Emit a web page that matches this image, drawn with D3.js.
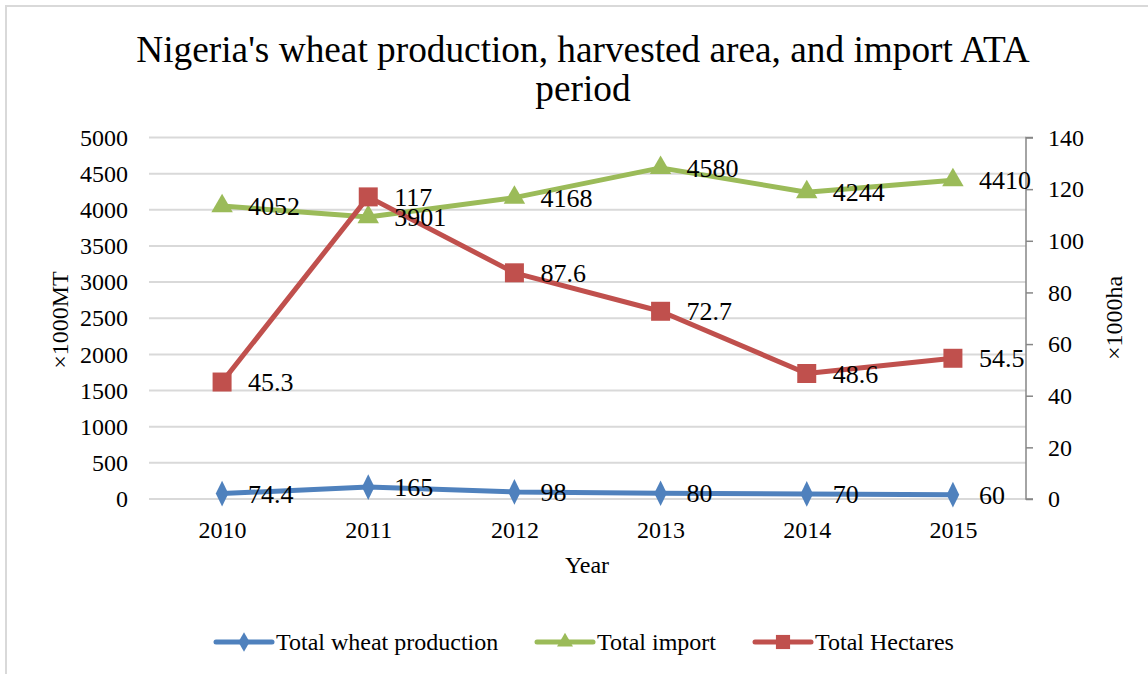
<!DOCTYPE html>
<html>
<head>
<meta charset="utf-8">
<script src="https://cdn.jsdelivr.net/npm/d3@7"></script>
<style>
  html, body { margin: 0; padding: 0; background: #fff; }
  svg { display: block; font-family: "Liberation Serif", "Times New Roman", serif; }
</style>
</head>
<body>
<svg id="chart" width="1148" height="674"></svg>
<script>
const years = ["2010", "2011", "2012", "2013", "2014", "2015"];
const production = [74.4, 165, 98, 80, 70, 60];
const imports = [4052, 3901, 4168, 4580, 4244, 4410];
const hectares = [45.3, 117, 87.6, 72.7, 48.6, 54.5];
const leftTicks = [0, 500, 1000, 1500, 2000, 2500, 3000, 3500, 4000, 4500, 5000];
const rightTicks = [0, 20, 40, 60, 80, 100, 120, 140];
const seriesNames = ["Total wheat production", "Total import", "Total Hectares"];

const svg = d3.select("#chart");
const W = 1148, H = 674;
const plot = { left: 149, right: 1026, top: 137.5, bottom: 499 };

svg.append("rect").attr("x", 6).attr("y", 6).attr("width", W + 20).attr("height", H + 20)
  .attr("fill", "#fff").attr("stroke", "#d9d9d9").attr("stroke-width", 2);

const x = d3.scalePoint().domain(years).range([plot.left, plot.right]).padding(0.5);
const yL = d3.scaleLinear().domain([0, 5000]).range([plot.bottom, plot.top]);
const yR = d3.scaleLinear().domain([0, 140]).range([plot.bottom, plot.top]);

// gridlines
svg.append("g").selectAll("line").data(leftTicks).join("line")
  .attr("x1", plot.left).attr("x2", plot.right)
  .attr("y1", d => yL(d)).attr("y2", d => yL(d))
  .attr("stroke", "#d9d9d9").attr("stroke-width", 2);

// left axis labels
const leftAxis = d3.axisLeft(yL).tickValues(leftTicks).tickFormat(d3.format("d")).tickSize(0).tickPadding(21);
const gL = svg.append("g").attr("transform", `translate(${plot.left},0)`).call(leftAxis);
gL.select(".domain").remove();
gL.selectAll("text").attr("font-size", 24).attr("fill", "#000")
  .attr("font-family", "Liberation Serif, serif");

// right axis
const rightAxis = d3.axisRight(yR).tickValues(rightTicks).tickFormat(d3.format("d")).tickSize(7).tickPadding(15);
const gR = svg.append("g").attr("transform", `translate(${plot.right},0)`).call(rightAxis);
gR.select(".domain").attr("stroke", "#868686").attr("stroke-width", 1.5).attr("d", `M7,${plot.top}H0V${plot.bottom}H7`);
gR.selectAll(".tick line").attr("stroke", "#868686").attr("stroke-width", 1.5);
gR.selectAll("text").attr("font-size", 24).attr("fill", "#000")
  .attr("font-family", "Liberation Serif, serif");

// x axis labels
const xAxis = d3.axisBottom(x).tickSize(0).tickPadding(22);
const gX = svg.append("g").attr("transform", `translate(0,${plot.bottom})`).call(xAxis);
gX.select(".domain").remove();
gX.selectAll("text").attr("font-size", 24).attr("fill", "#000")
  .attr("font-family", "Liberation Serif, serif");

// titles
const title = svg.append("text").attr("text-anchor", "middle").attr("font-size", 37.3).attr("fill", "#000");
title.append("tspan").attr("x", 583).attr("y", 62).text("Nigeria's wheat production, harvested area, and import ATA");
title.append("tspan").attr("x", 583).attr("y", 101).text("period");

svg.append("text").attr("x", 587).attr("y", 573).attr("text-anchor", "middle")
  .attr("font-size", 24).attr("fill", "#000").text("Year");
svg.append("text").attr("transform", "translate(68,320) rotate(-90)").attr("text-anchor", "middle")
  .attr("font-size", 24).attr("fill", "#000").text("×1000MT");
svg.append("text").attr("transform", "translate(1122,318) rotate(-90)").attr("text-anchor", "middle")
  .attr("font-size", 24).attr("fill", "#000").text("×1000ha");

const colors = ["#4F81BD", "#9BBB59", "#C0504D"];
const series = [
  { values: production, y: yL, color: colors[0], marker: d3.symbolDiamond, size: 190 },
  { values: imports, y: yL, color: colors[1], marker: d3.symbolTriangle, size: 200 },
  { values: hectares, y: yR, color: colors[2], marker: d3.symbolSquare, size: 361 }
];

series.forEach(s => {
  const pts = years.map((yr, i) => [x(yr), s.y(s.values[i])]);
  svg.append("path").attr("d", d3.line()(pts)).attr("fill", "none")
    .attr("stroke", s.color).attr("stroke-width", 5).attr("stroke-linejoin", "round");
  svg.append("g").selectAll("path").data(pts).join("path")
    .attr("transform", d => `translate(${d[0]},${d[1]})${s.marker === d3.symbolDiamond ? " scale(0.85,1)" : ""}`)
    .attr("d", d3.symbol().type(s.marker).size(s.size))
    .attr("fill", s.color);
});

series.forEach(s => {
  svg.append("g").selectAll("text").data(s.values).join("text")
    .attr("x", (d, i) => x(years[i]) + 26)
    .attr("y", d => s.y(d))
    .attr("dy", "0.35em")
    .attr("font-size", 26).attr("fill", "#000")
    .text(d => d);
});

// legend
const legendItems = [
  { name: seriesNames[0], color: colors[0], marker: d3.symbolDiamond, size: 110, x0: 216 },
  { name: seriesNames[1], color: colors[1], marker: d3.symbolTriangle, size: 110, x0: 537 },
  { name: seriesNames[2], color: colors[2], marker: d3.symbolSquare, size: 200, x0: 755 }
];
const ly = 642;
legendItems.forEach(it => {
  svg.append("line").attr("x1", it.x0).attr("x2", it.x0 + 56).attr("y1", ly).attr("y2", ly)
    .attr("stroke", it.color).attr("stroke-width", 5).attr("stroke-linecap", "round");
  svg.append("path").attr("transform", `translate(${it.x0 + 28},${ly})`)
    .attr("d", d3.symbol().type(it.marker).size(it.size)).attr("fill", it.color);
  svg.append("text").attr("x", it.x0 + 60).attr("y", ly).attr("dy", "0.35em")
    .attr("font-size", 24).attr("fill", "#000").text(it.name);
});
</script>
</body>
</html>
